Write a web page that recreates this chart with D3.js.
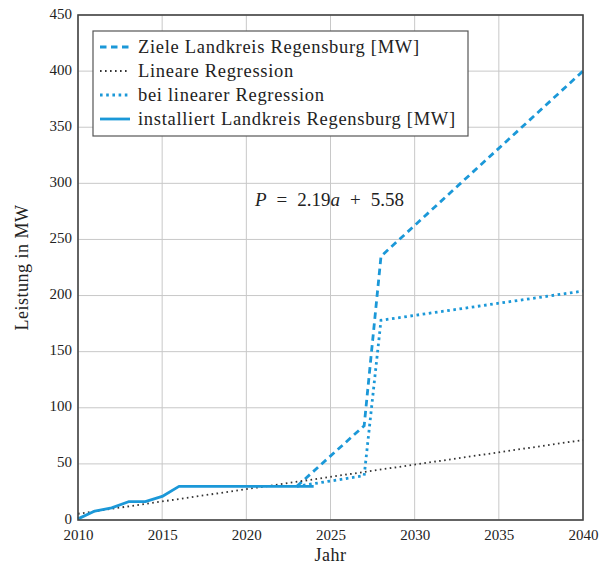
<!DOCTYPE html>
<html><head><meta charset="utf-8">
<script src="https://cdn.jsdelivr.net/npm/d3@7"></script>
<style>
html,body{margin:0;padding:0;background:#fff;}
text{font-family:"Liberation Serif","DejaVu Serif",serif;fill:#222;}
</style></head>
<body><svg id="c" width="606" height="572"></svg>
<script>
// ---- data ----
const installedYears = [2010,2011,2012,2013,2014,2015,2016,2017,2018,2019,2020,2021,2022,2023,2024];
const installedValues = [1,8,10.8,16.3,16.3,21,30,30,30,30,30,30,30,30,30];
const targetYears = [2023,2027,2028,2040];
const targetValues = [30,84,235,400];
const regressionYears = [2010,2040];
const regressionValues = [5.58,71.28];
const scenarioYears = [2023,2027,2028,2040];
const scenarioValues = [30,39.5,178,204];
const xTicks = [2010,2015,2020,2025,2030,2035,2040];
const yTicks = [0,50,100,150,200,250,300,350,400,450];
const legendLabels = ["Ziele Landkreis Regensburg [MW]","Lineare Regression","bei linearer Regression","installiert Landkreis Regensburg [MW]"];
const xLabel = "Jahr";
const yLabel = "Leistung in MW";

const blue = "#1b98d8";
const svg = d3.select("#c");
const m = {l:78,r:583,t:15,b:520};
const x = d3.scaleLinear().domain([2010,2040]).range([m.l,m.r]);
const y = d3.scaleLinear().domain([0,450]).range([m.b,m.t]);

// grid
svg.append("g").selectAll("line").data(xTicks).join("line")
  .attr("x1",d=>x(d)).attr("x2",d=>x(d)).attr("y1",m.t).attr("y2",m.b)
  .attr("stroke","#c8c8c8").attr("stroke-width",1);
svg.append("g").selectAll("line").data(yTicks).join("line")
  .attr("x1",m.l).attr("x2",m.r).attr("y1",d=>y(d)).attr("y2",d=>y(d))
  .attr("stroke","#c8c8c8").attr("stroke-width",1);

// axes (labels)
const yAxis = d3.axisLeft(y).tickValues(yTicks).tickSize(0).tickPadding(6).tickFormat(d3.format("d"));
const gy = svg.append("g").attr("transform",`translate(${m.l},0)`).call(yAxis);
gy.select(".domain").remove();
gy.selectAll("text").style("font-size","15px").attr("fill","#222").attr("dy","0.2em");
const xAxis = d3.axisBottom(x).tickValues(xTicks).tickSize(0).tickPadding(9).tickFormat(d3.format("d"));
const gx = svg.append("g").attr("transform",`translate(0,${m.b})`).call(xAxis);
gx.select(".domain").remove();
gx.selectAll("text").style("font-size","15px").attr("fill","#222");

// lines
const line = d3.line().x(d=>x(d[0])).y(d=>y(d[1]));
const zip = (a,b)=>a.map((v,i)=>[v,b[i]]);
svg.append("path").datum(zip(targetYears,targetValues)).attr("d",line)
  .attr("fill","none").attr("stroke",blue).attr("stroke-width",2.8).attr("stroke-dasharray","6.5,4.5");
svg.append("path").datum(zip(regressionYears,regressionValues)).attr("d",line)
  .attr("fill","none").attr("stroke","#333").attr("stroke-width",1.8).attr("stroke-dasharray","1.6,3.4");
svg.append("path").datum(zip(scenarioYears,scenarioValues)).attr("d",line)
  .attr("fill","none").attr("stroke",blue).attr("stroke-width",2.8).attr("stroke-dasharray","2.6,3.6");
svg.append("path").datum(zip(installedYears,installedValues)).attr("d",line)
  .attr("fill","none").attr("stroke",blue).attr("stroke-width",2.8).attr("stroke-linejoin","round");

// frame
svg.append("rect").attr("x",m.l).attr("y",m.t).attr("width",m.r-m.l).attr("height",m.b-m.t)
  .attr("fill","none").attr("stroke","#444").attr("stroke-width",1.6);

// annotation
const ann = svg.append("text").attr("x",255).attr("y",206).style("font-size","19px");
ann.append("tspan").attr("font-style","italic").text("P");
ann.append("tspan").attr("dx",10).text("=");
ann.append("tspan").attr("dx",10).text("2.19");
ann.append("tspan").attr("font-style","italic").text("a");
ann.append("tspan").attr("dx",10).text("+");
ann.append("tspan").attr("dx",10).text("5.58");

// legend
const lg = svg.append("g");
lg.append("rect").attr("x",93).attr("y",31).attr("width",375).attr("height",105)
  .attr("fill","#fff").attr("stroke","#555").attr("stroke-width",1.2);
const styles = [
  {c:blue,w:2.8,da:"6.5,4.5"},
  {c:"#333",w:1.8,da:"1.6,3.4"},
  {c:blue,w:2.8,da:"2.6,3.6"},
  {c:blue,w:2.8,da:null}
];
legendLabels.forEach((t,i)=>{
  const cy = 47 + i*24;
  const s = styles[i];
  const l = lg.append("line").attr("x1",100).attr("x2",130).attr("y1",cy).attr("y2",cy)
    .attr("stroke",s.c).attr("stroke-width",s.w);
  if(s.da) l.attr("stroke-dasharray",s.da);
  lg.append("text").attr("x",138).attr("y",cy+6).style("font-size","18.5px")
    .style("letter-spacing","0.7px").text(t);
});

// axis titles
svg.append("text").attr("x",(m.l+m.r)/2).attr("y",561).attr("text-anchor","middle")
  .style("font-size","18px").style("letter-spacing","0.5px").text(xLabel);
svg.append("text").attr("transform",`translate(28,${(m.t+m.b)/2}) rotate(-90)`)
  .attr("text-anchor","middle").style("font-size","18px").style("letter-spacing","0.5px").text(yLabel);
</script></body></html>
